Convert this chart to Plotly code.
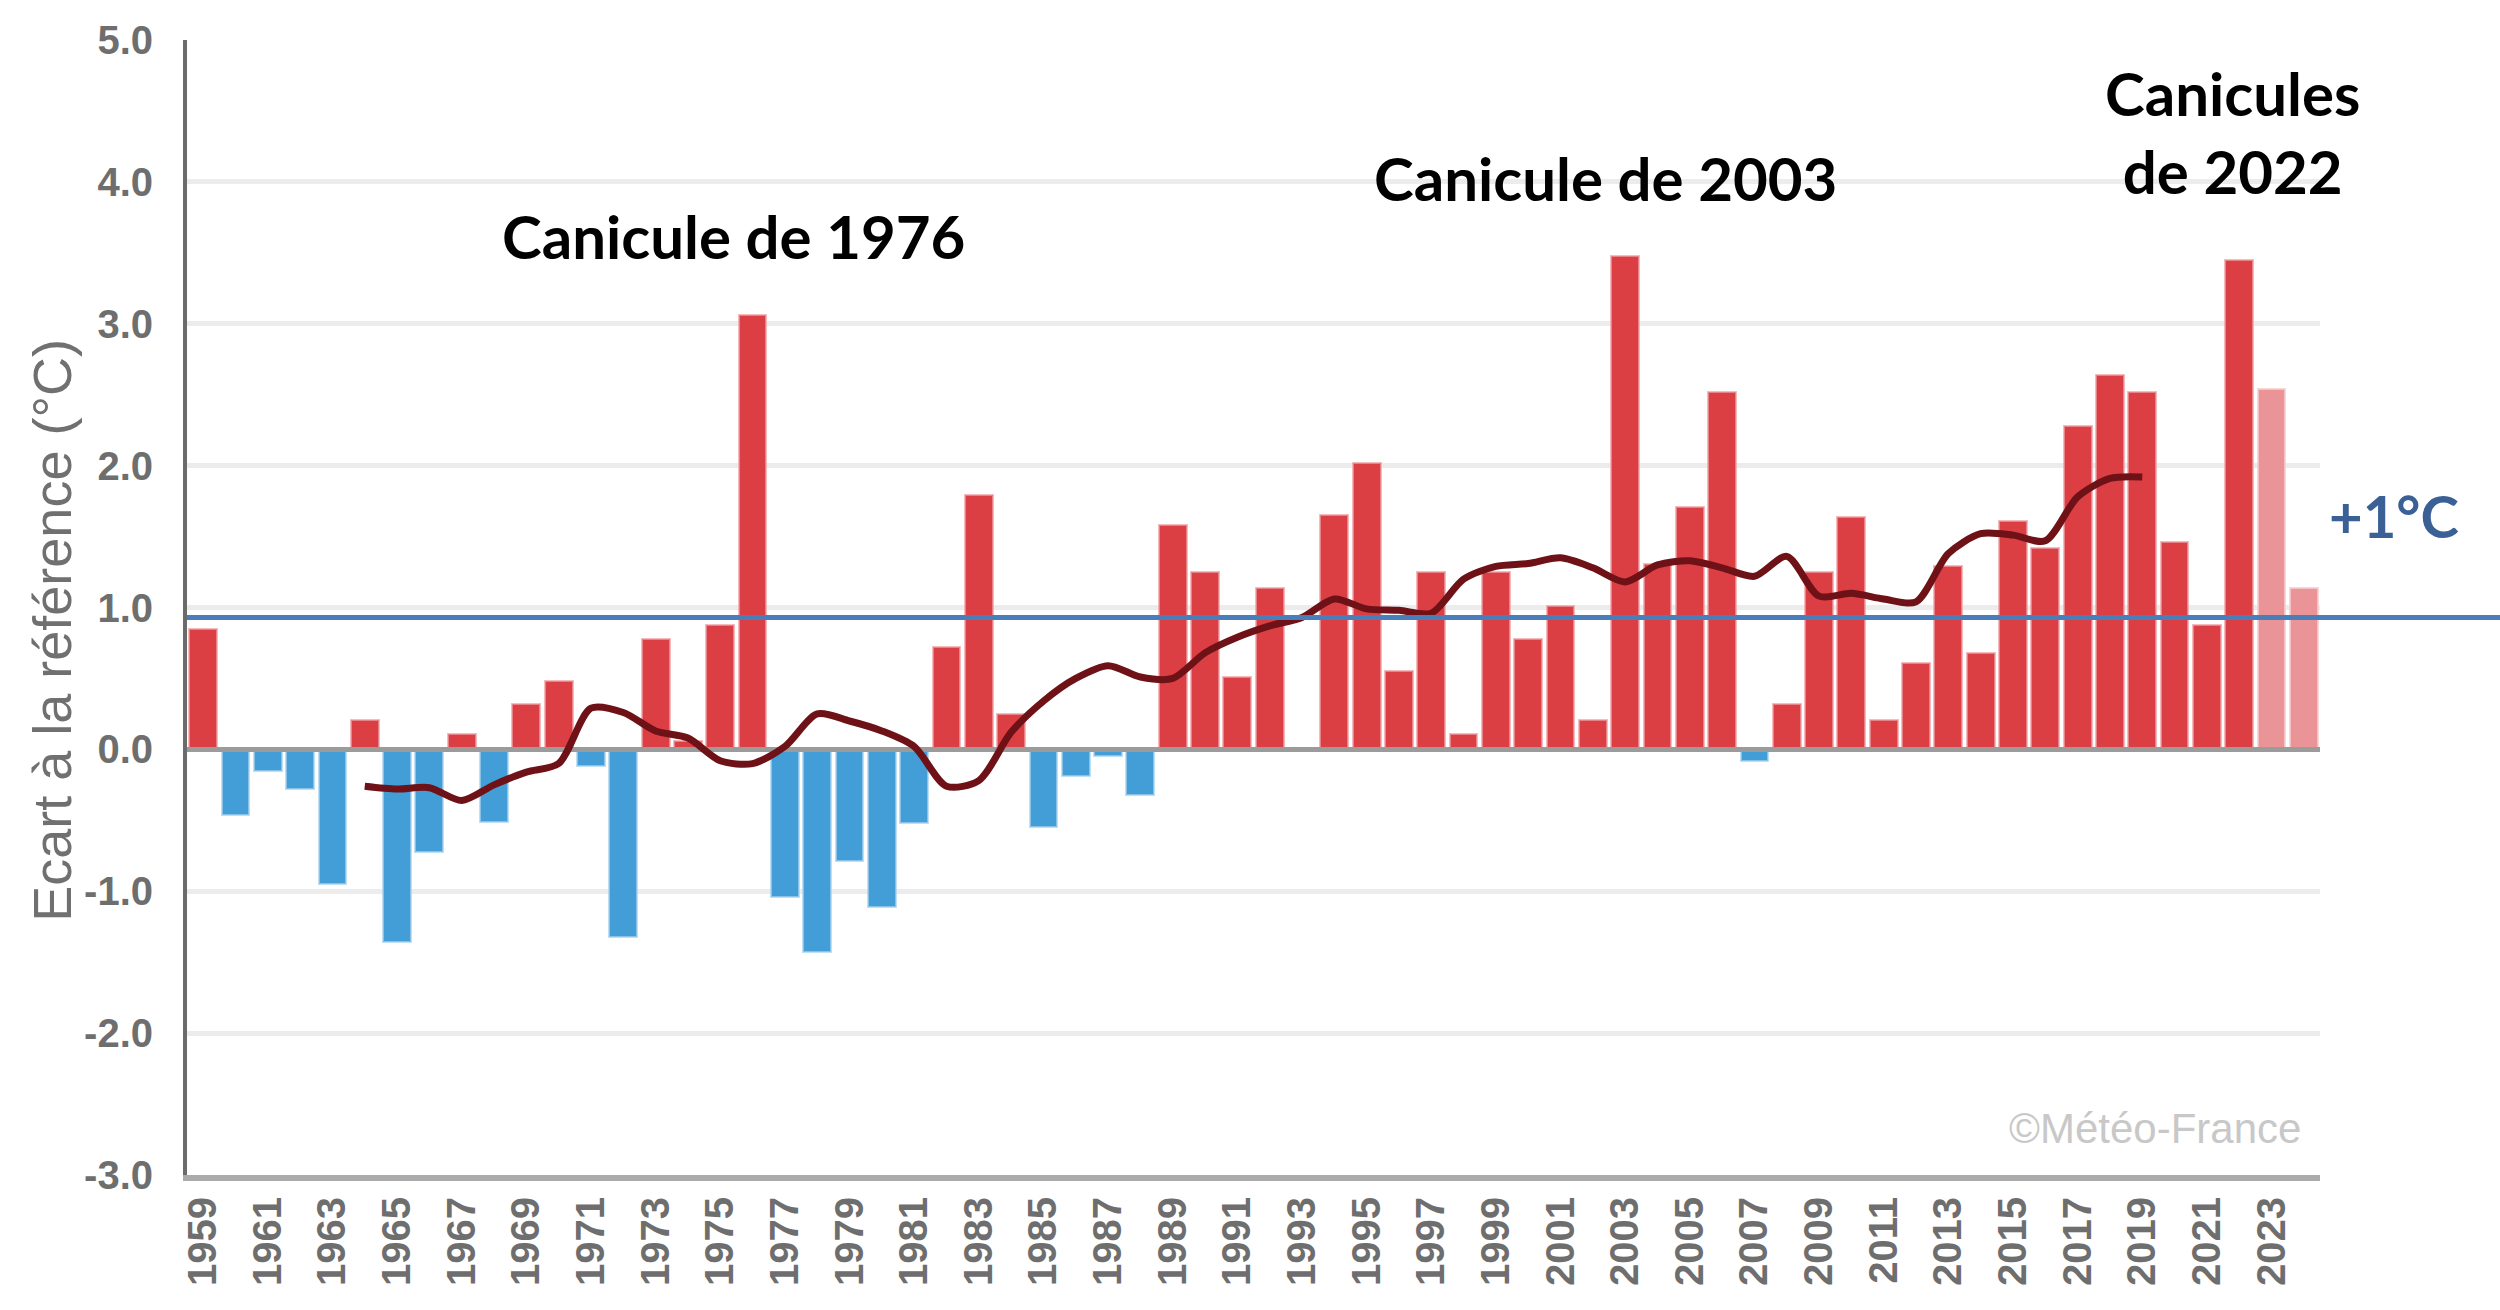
import plotly.graph_objects as go

years = list(range(1959, 2025))
anomalies = [
    0.85, -0.46, -0.15, -0.28, -0.95, 0.21, -1.36, -0.72, 0.11, -0.51,
    0.32, 0.48, -0.12, -1.32, 0.78, 0.06, 0.88, 3.06, -1.04, -1.43,
    -0.79, -1.11, -0.52, 0.72, 1.79, 0.25, -0.55, -0.19, -0.05, -0.32,
    1.58, 1.25, 0.51, 1.14, 0.0, 1.65, 2.02, 0.55, 1.25, 0.11,
    1.25, 0.78, 1.01, 0.21, 3.48, 1.31, 1.71, 2.52, -0.08, 0.32,
    1.25, 1.64, 0.21, 0.61, 1.29, 0.68, 1.61, 1.42, 2.28, 2.64,
    2.52, 1.46, 0.88, 3.45, 2.54, 1.14,
]
provisional_years = [2023, 2024]

smooth_years = list(range(1964, 2020))
smooth_values = [
    -0.26, -0.28, -0.27, -0.36, -0.25, -0.16, -0.10, 0.29, 0.26, 0.13,
    0.08, -0.08, -0.10, 0.02, 0.25, 0.20, 0.13, 0.02, -0.26, -0.22,
    0.12, 0.34, 0.50, 0.59, 0.51, 0.50, 0.68, 0.79, 0.87, 0.93,
    1.06, 0.99, 0.98, 0.96, 1.20, 1.29, 1.31, 1.35, 1.28, 1.18,
    1.30, 1.33, 1.28, 1.22, 1.36, 1.08, 1.10, 1.06, 1.04, 1.38,
    1.52, 1.51, 1.47, 1.78, 1.91, 1.92,
]
threshold = 0.93
tick_years = list(range(1959, 2024, 2))
y_ticks = list(range(-3, 6))

RED = "#db3e43"
BLUE = "#439dd6"
PALE_RED = "#eb9498"


def bar_color(year, value):
    if year in provisional_years:
        return PALE_RED
    return RED if value >= 0 else BLUE


def rim_color(year, value):
    if year in provisional_years:
        return "rgba(246,205,207,0.8)"
    return "rgba(240,160,163,0.7)" if value >= 0 else "rgba(165,210,238,0.7)"


colors = [bar_color(y, v) for y, v in zip(years, anomalies)]
rims = [rim_color(y, v) for y, v in zip(years, anomalies)]
x_lo, x_hi = years[0] - 0.5, years[-1] + 0.5

fig = go.Figure()
fig.add_trace(
    go.Bar(
        x=years,
        y=anomalies,
        marker=dict(color=colors, line=dict(color=rims, width=2)),
        width=0.86,
        hoverinfo="x+y",
    )
)
# zero line above the bars but under the moving average
fig.add_trace(
    go.Scatter(
        x=[x_lo, x_hi],
        y=[0, 0],
        mode="lines",
        line=dict(color="#9b9b9b", width=5),
        hoverinfo="skip",
    )
)
fig.add_trace(
    go.Scatter(
        x=smooth_years,
        y=smooth_values,
        mode="lines",
        line=dict(color="#6e1217", width=7, shape="spline", smoothing=0.8),
    )
)

fig.add_shape(
    type="line",
    xref="paper",
    yref="y",
    x0=0,
    x1=1.09,
    y0=threshold,
    y1=threshold,
    line=dict(color="#4a7ebb", width=5),
    layer="above",
)

label_font = dict(family="Lato, Open Sans, sans-serif", size=60, color="#000000")
fig.add_annotation(x=1975.4, y=3.62, text="<b>Canicule de 1976</b>", showarrow=False, font=label_font)
fig.add_annotation(x=2002.4, y=4.03, text="<b>Canicule de 2003</b>", showarrow=False, font=label_font)
fig.add_annotation(
    x=2021.8, y=4.35, text="<b>Canicules<br>de 2022</b>", showarrow=False, font=label_font,
    align="center",
)
fig.add_annotation(
    xref="paper", x=1.066, y=1.65, text="<b>+1°C</b>", showarrow=False,
    font=dict(family="Lato, Open Sans, sans-serif", size=58, color="#3a6096"),
)
fig.add_annotation(
    x=2023.96, y=-2.67, xanchor="right", text="©Météo-France", showarrow=False,
    font=dict(family="Liberation Sans Narrow, Liberation Sans, sans-serif", size=42, color="#c8c8c8"),
)
fig.add_annotation(
    xref="paper", yref="paper", x=-0.078, y=0.48, textangle=-90,
    text="Ecart à la référence (°C)", showarrow=False,
    font=dict(family="Liberation Sans, Arial, sans-serif", size=54, color="#707070"),
)

tick_font = dict(family="Liberation Sans Narrow, Liberation Sans, sans-serif", size=40, color="#6e6e6e")
fig.update_layout(
    width=2500,
    height=1310,
    margin=dict(l=187, r=180, t=40, b=135),
    plot_bgcolor="white",
    paper_bgcolor="white",
    showlegend=False,
    bargap=0,
)
fig.update_xaxes(
    range=[x_lo, x_hi],
    tickvals=tick_years,
    ticktext=[f"<b>{y}</b>" for y in tick_years],
    tickangle=-90,
    showgrid=False,
    zeroline=False,
    showline=True,
    linecolor="#aaaaaa",
    linewidth=6,
    ticks="",
    tickfont=tick_font,
)
fig.update_yaxes(
    range=[-3, 5],
    tickvals=y_ticks,
    ticktext=[f"<b>{v:.1f}</b>" for v in y_ticks],
    showgrid=True,
    gridcolor="#ececec",
    gridwidth=5,
    zeroline=False,
    showline=True,
    linecolor="#6b6b6b",
    linewidth=4,
    ticks="",
    ticklabelstandoff=22,
    tickfont=tick_font,
)

fig.write_html(
    "out.html",
    config={"displayModeBar": False},
    post_script="document.body.style.margin='0';",
)
